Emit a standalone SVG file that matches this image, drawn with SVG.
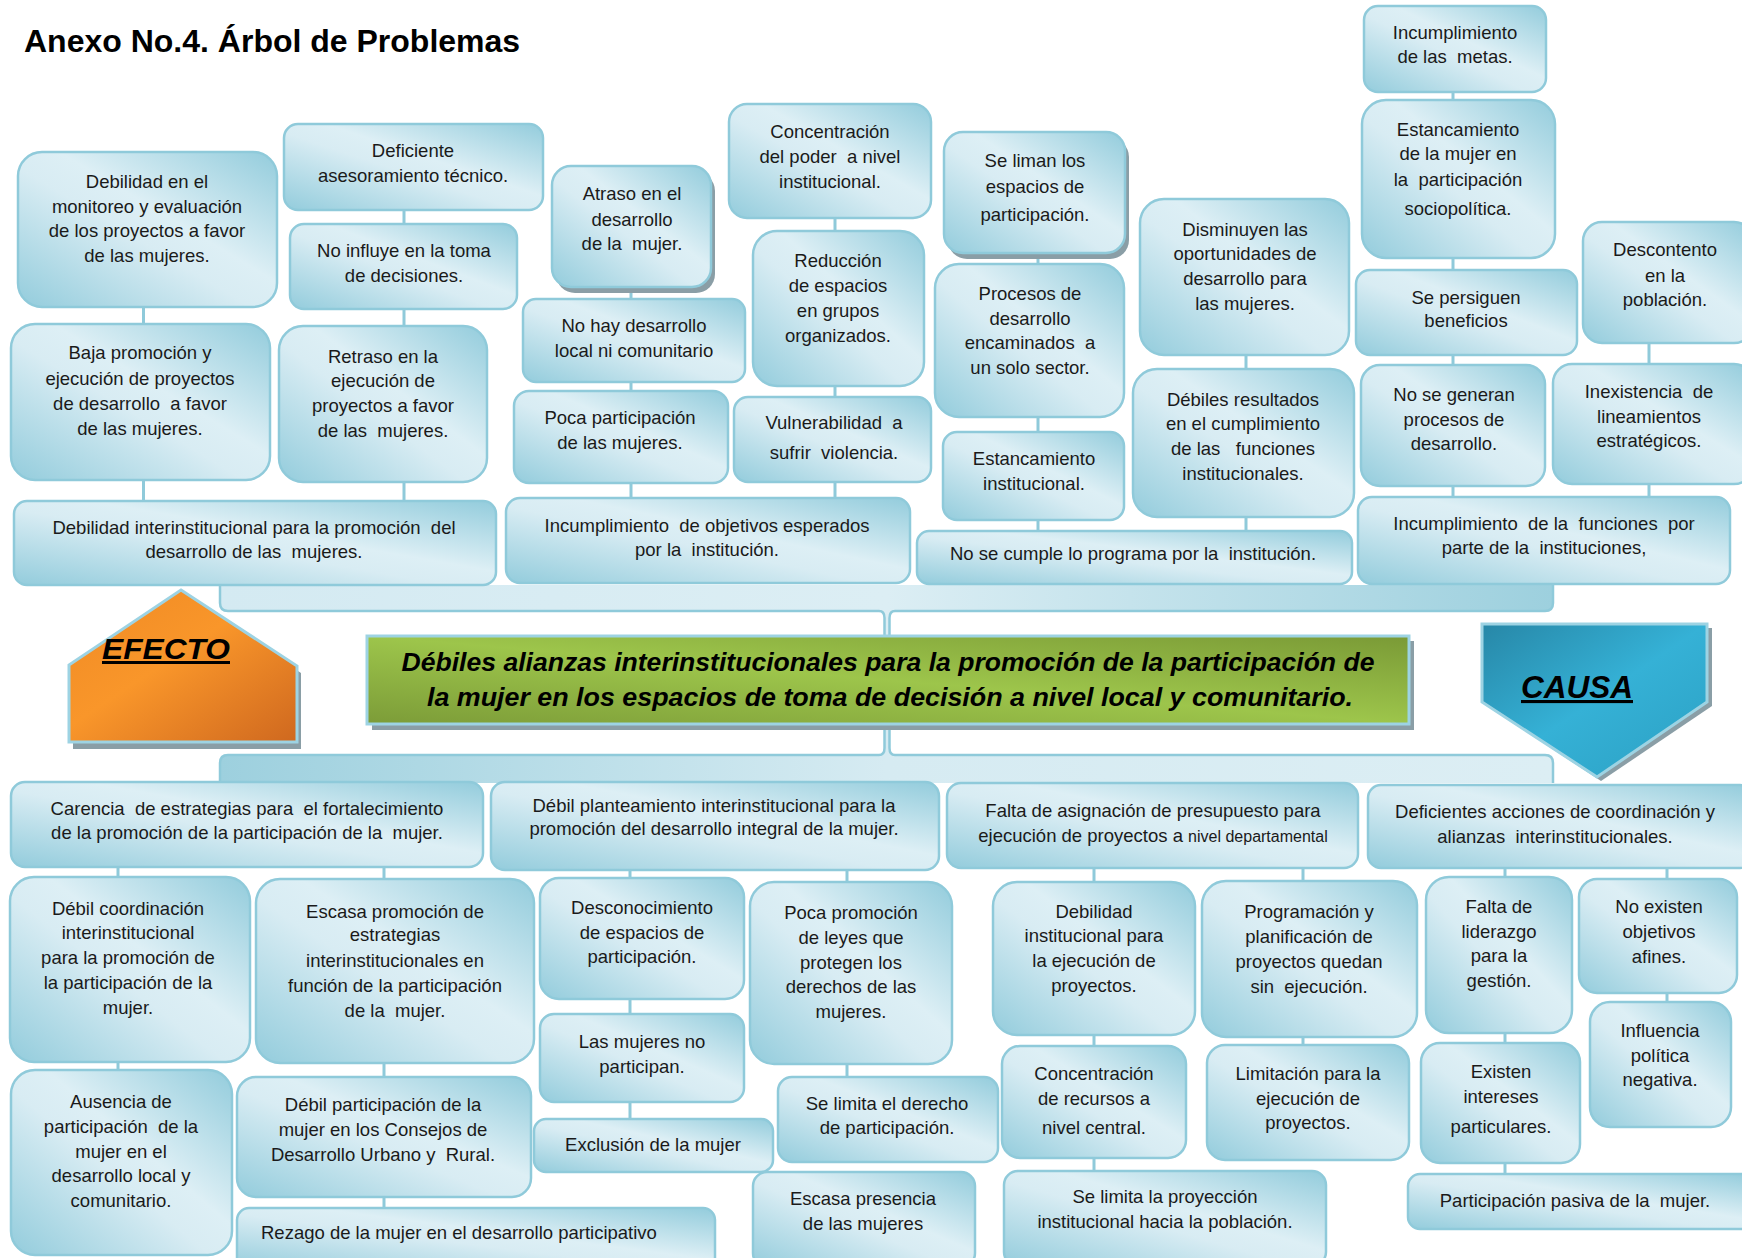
<svg xmlns="http://www.w3.org/2000/svg" width="1742" height="1258" viewBox="0 0 1742 1258">
<defs>
<linearGradient id="bg" x1="0" y1="1" x2="1" y2="0">
<stop offset="0" stop-color="#93CCDC"/><stop offset="0.45" stop-color="#D8ECF3"/><stop offset="0.58" stop-color="#DDEFF5"/><stop offset="1" stop-color="#93CCDC"/>
</linearGradient>
<linearGradient id="mg" x1="0" y1="1" x2="1" y2="0">
<stop offset="0" stop-color="#7C9C38"/><stop offset="0.5" stop-color="#9DC54B"/><stop offset="1" stop-color="#7A9A36"/>
</linearGradient>
<linearGradient id="og" x1="0" y1="0" x2="1" y2="1">
<stop offset="0" stop-color="#EF8A24"/><stop offset="0.45" stop-color="#F9962A"/><stop offset="1" stop-color="#CF681F"/>
</linearGradient>
<linearGradient id="cg" x1="0" y1="0" x2="1" y2="1">
<stop offset="0" stop-color="#2787A7"/><stop offset="0.5" stop-color="#35B1D6"/><stop offset="1" stop-color="#2BA0C3"/>
</linearGradient>
<linearGradient id="tb" x1="0" y1="0" x2="1" y2="0">
<stop offset="0" stop-color="#D4EAF2"/><stop offset="0.5" stop-color="#DCEEF4"/><stop offset="1" stop-color="#9DD0DE"/>
</linearGradient>
<linearGradient id="bb" x1="0" y1="0" x2="1" y2="0">
<stop offset="0" stop-color="#9DD0DE"/><stop offset="0.5" stop-color="#D6EBF2"/><stop offset="1" stop-color="#DCEEF4"/>
</linearGradient>
<style>
.box{fill:url(#bg);stroke:#8FCADA;stroke-width:2.5}
.sh{fill:#8A9EA6}
.t{font-family:"Liberation Sans",Arial,sans-serif;font-size:18.5px;fill:#1a1a1a;text-anchor:middle;white-space:pre}
.conn{stroke:#8FCADA;stroke-width:3;fill:none}
.band{stroke:#8FCADA;stroke-width:2.5}
</style>
</defs>
<rect width="1742" height="1258" fill="#ffffff"/>
<text x="24" y="52" font-family="'Liberation Sans',Arial,sans-serif" font-size="32" font-weight="bold" fill="#000">Anexo No.4. Árbol de Problemas</text>

<g id="brackets">
<path d="M220,585 L1553,585 L1553,603 Q1553,611 1545,611 L895,611 Q889.5,611 889.5,618 L889.5,636 L884.5,636 L884.5,618 Q884.5,611 879,611 L228,611 Q220,611 220,603 Z" fill="url(#tb)" stroke="none"/>
<path d="M220,585 L220,603 Q220,611 228,611 L879,611 Q884.5,611 884.5,618 L884.5,636 M889.5,636 L889.5,618 Q889.5,611 895,611 L1545,611 Q1553,611 1553,603 L1553,585" class="band" fill="none"/>
<path d="M220,783 L220,763 Q220,755 228,755 L879,755 Q884.5,755 884.5,748 L884.5,724 L889.5,724 L889.5,748 Q889.5,755 895,755 L1545,755 Q1553,755 1553,763 L1553,783 Z" fill="url(#bb)" stroke="none"/>
<path d="M220,783 L220,763 Q220,755 228,755 L879,755 Q884.5,755 884.5,748 L884.5,724 M889.5,724 L889.5,748 Q889.5,755 895,755 L1545,755 Q1553,755 1553,763 L1553,783" class="band" fill="none"/>
</g>

<g id="connectors">
<path class="conn" d="M143.5,307V324M143.5,480V501M404,210V224M404,309V326M404,482V501M631,287V299M631,382V391M631,483V498M835,218V231M835,386V397M835,482V498M1038,253V264M1038,417V432M1038,520V531M1246,355V369M1246,517V531M1453,92V100M1453,258V270M1453,355V365M1453,486V497M1649,343V364M1649,484V497"/>
<path class="conn" d="M118,867V877M118,1062V1070M384,867V879M384,1063V1077M384,1197V1208M630,870V878M630,999V1014M630,1102V1119M847,870V882M847,1064V1077M1094,868V882M1094,1035V1046M1094,1158V1171M1303,868V881M1303,1037V1045M1505,868V877M1505,1033V1043M1505,1163V1174M1667,868V879M1667,993V1002"/>
</g>

<g id="n-t24"><rect class="box" x="18" y="152" width="259" height="155" rx="24"/><text class="t"><tspan x="147" y="188">Debilidad en el</tspan><tspan x="147" y="213">monitoreo y evaluación</tspan><tspan x="147" y="237">de los proyectos a favor</tspan><tspan x="147" y="262">de las mujeres.</tspan></text></g>
<g id="n-t21"><rect class="box" x="284" y="124" width="259" height="86" rx="14"/><text class="t"><tspan x="413" y="157">Deficiente</tspan><tspan x="413" y="182">asesoramiento técnico.</tspan></text></g>
<g id="n-t22"><rect class="box" x="290" y="224" width="227" height="85" rx="14"/><text class="t"><tspan x="404" y="257">No influye en la toma</tspan><tspan x="404" y="282">de decisiones.</tspan></text></g>
<g id="n-t25"><rect class="box" x="11" y="324" width="259" height="156" rx="24"/><text class="t"><tspan x="140" y="359">Baja promoción y</tspan><tspan x="140" y="385">ejecución de proyectos</tspan><tspan x="140" y="410">de desarrollo  a favor</tspan><tspan x="140" y="435">de las mujeres.</tspan></text></g>
<g id="n-t23"><rect class="box" x="279" y="326" width="208" height="156" rx="24"/><text class="t"><tspan x="383" y="363">Retraso en la</tspan><tspan x="383" y="387">ejecución de</tspan><tspan x="383" y="412">proyectos a favor</tspan><tspan x="383" y="437">de las  mujeres.</tspan></text></g>
<g id="n-t26"><rect class="box" x="14" y="501" width="482" height="84" rx="13"/><text class="t"><tspan x="254" y="534">Debilidad interinstitucional para la promoción  del</tspan><tspan x="254" y="558">desarrollo de las  mujeres.</tspan></text></g>

<g id="n-t18"><rect class="sh" x="556" y="172" width="159" height="121" rx="19"/><rect class="box" x="552" y="166" width="159" height="121" rx="19"/><text class="t"><tspan x="632" y="200">Atraso en el</tspan><tspan x="632" y="226">desarrollo</tspan><tspan x="632" y="250">de la  mujer.</tspan></text></g>
<g id="n-t19"><rect class="box" x="523" y="299" width="222" height="83" rx="13"/><text class="t"><tspan x="634" y="332">No hay desarrollo</tspan><tspan x="634" y="357">local ni comunitario</tspan></text></g>
<g id="n-t20"><rect class="box" x="514" y="391" width="214" height="92" rx="15"/><text class="t"><tspan x="620" y="424">Poca participación</tspan><tspan x="620" y="449">de las mujeres.</tspan></text></g>
<g id="n-t17"><rect class="box" x="506" y="498" width="404" height="85" rx="14"/><text class="t"><tspan x="707" y="532">Incumplimiento  de objetivos esperados</tspan><tspan x="707" y="556">por la  institución.</tspan></text></g>
<g id="n-t14"><rect class="box" x="729" y="104" width="202" height="114" rx="18"/><text class="t"><tspan x="830" y="138">Concentración</tspan><tspan x="830" y="163">del poder  a nivel</tspan><tspan x="830" y="188">institucional.</tspan></text></g>
<g id="n-t15"><rect class="box" x="753" y="231" width="171" height="155" rx="24"/><text class="t"><tspan x="838" y="267">Reducción</tspan><tspan x="838" y="292">de espacios</tspan><tspan x="838" y="317">en grupos</tspan><tspan x="838" y="342">organizados.</tspan></text></g>
<g id="n-t16"><rect class="box" x="734" y="397" width="197" height="85" rx="14"/><text class="t"><tspan x="834" y="429">Vulnerabilidad  a</tspan><tspan x="834" y="459">sufrir  violencia.</tspan></text></g>
<g id="n-t11"><rect class="sh" x="948" y="138" width="181" height="121" rx="19"/><rect class="box" x="944" y="132" width="181" height="121" rx="19"/><text class="t"><tspan x="1035" y="167">Se liman los</tspan><tspan x="1035" y="193">espacios de</tspan><tspan x="1035" y="221">participación.</tspan></text></g>
<g id="n-t12"><rect class="box" x="935" y="264" width="189" height="153" rx="24"/><text class="t"><tspan x="1030" y="300">Procesos de</tspan><tspan x="1030" y="325">desarrollo</tspan><tspan x="1030" y="349">encaminados  a</tspan><tspan x="1030" y="374">un solo sector.</tspan></text></g>
<g id="n-t13"><rect class="box" x="943" y="432" width="181" height="88" rx="14"/><text class="t"><tspan x="1034" y="465">Estancamiento</tspan><tspan x="1034" y="490">institucional.</tspan></text></g>
<g id="n-t10"><rect class="box" x="917" y="531" width="435" height="53" rx="12"/><text class="t"><tspan x="1133" y="560">No se cumple lo programa por la  institución.</tspan></text></g>
<g id="n-t8"><rect class="box" x="1140" y="199" width="209" height="156" rx="24"/><text class="t"><tspan x="1245" y="236">Disminuyen las</tspan><tspan x="1245" y="260">oportunidades de</tspan><tspan x="1245" y="285">desarrollo para</tspan><tspan x="1245" y="310">las mujeres.</tspan></text></g>
<g id="n-t9"><rect class="box" x="1133" y="369" width="221" height="148" rx="24"/><text class="t"><tspan x="1243" y="406">Débiles resultados</tspan><tspan x="1243" y="430">en el cumplimiento</tspan><tspan x="1243" y="455">de las   funciones</tspan><tspan x="1243" y="480">institucionales.</tspan></text></g>
<g id="n-t1"><rect class="box" x="1364" y="6" width="182" height="86" rx="14"/><text class="t"><tspan x="1455" y="39">Incumplimiento</tspan><tspan x="1455" y="63">de las  metas.</tspan></text></g>
<g id="n-t2"><rect class="box" x="1362" y="100" width="193" height="158" rx="24"/><text class="t"><tspan x="1458" y="136">Estancamiento</tspan><tspan x="1458" y="160">de la mujer en</tspan><tspan x="1458" y="186">la  participación</tspan><tspan x="1458" y="215">sociopolítica.</tspan></text></g>
<g id="n-t3"><rect class="box" x="1356" y="270" width="221" height="85" rx="14"/><text class="t"><tspan x="1466" y="304">Se persiguen</tspan><tspan x="1466" y="327">beneficios</tspan></text></g>
<g id="n-t4"><rect class="box" x="1583" y="222" width="170" height="121" rx="19"/><text class="t"><tspan x="1665" y="256">Descontento</tspan><tspan x="1665" y="282">en la</tspan><tspan x="1665" y="306">población.</tspan></text></g>
<g id="n-t5"><rect class="box" x="1361" y="365" width="184" height="121" rx="19"/><text class="t"><tspan x="1454" y="401">No se generan</tspan><tspan x="1454" y="426">procesos de</tspan><tspan x="1454" y="450">desarrollo.</tspan></text></g>
<g id="n-t6"><rect class="box" x="1553" y="364" width="200" height="120" rx="19"/><text class="t"><tspan x="1649" y="398">Inexistencia  de</tspan><tspan x="1649" y="423">lineamientos</tspan><tspan x="1649" y="447">estratégicos.</tspan></text></g>
<g id="n-t7"><rect class="box" x="1358" y="497" width="372" height="87" rx="14"/><text class="t"><tspan x="1544" y="530">Incumplimiento  de la  funciones  por</tspan><tspan x="1544" y="554">parte de la  instituciones,</tspan></text></g>

<g id="n-efecto">
<polygon points="185,597 301,673 301,749 73,749 73,672" fill="#8A9EA6"/>
<polygon points="181,590 297,666 297,742 69,742 69,665" fill="url(#og)" stroke="#9DD3E3" stroke-width="3"/>
<text x="102" y="659" font-family="'Liberation Sans',Arial,sans-serif" font-size="30" font-weight="bold" font-style="italic" text-decoration="underline" fill="#000" textLength="128" lengthAdjust="spacingAndGlyphs">EFECTO</text>
</g>

<g id="n-main">
<rect x="372" y="641" width="1042" height="89" fill="#8A9EA6"/>
<rect x="367" y="636" width="1042" height="88" fill="url(#mg)" stroke="#9DD3E3" stroke-width="3"/>
<text font-family="'Liberation Sans',Arial,sans-serif" font-size="26" font-weight="bold" font-style="italic" fill="#000" text-anchor="middle"><tspan x="888" y="671" textLength="973" lengthAdjust="spacingAndGlyphs">Débiles alianzas interinstitucionales para la promoción de la participación de</tspan><tspan x="890" y="706" textLength="926" lengthAdjust="spacingAndGlyphs">la mujer en los espacios de toma de decisión a nivel local y comunitario.</tspan></text>
</g>

<g id="n-causa">
<polygon points="1487,628 1712,628 1712,706 1601,781 1487,706" fill="#8A9EA6"/>
<polygon points="1482,624 1707,624 1707,702 1597,777 1482,702" fill="url(#cg)" stroke="#9DD3E3" stroke-width="3"/>
<text x="1521" y="698" font-family="'Liberation Sans',Arial,sans-serif" font-size="31" font-weight="bold" font-style="italic" text-decoration="underline" fill="#000" textLength="112" lengthAdjust="spacingAndGlyphs">CAUSA</text>
</g>

<g id="n-b1"><rect class="box" x="11" y="782" width="472" height="85" rx="14"/><text class="t"><tspan x="247" y="815">Carencia  de estrategias para  el fortalecimiento</tspan><tspan x="247" y="839">de la promoción de la participación de la  mujer.</tspan></text></g>
<g id="n-b2"><rect class="box" x="491" y="782" width="448" height="88" rx="14"/><text class="t"><tspan x="714" y="812">Débil planteamiento interinstitucional para la</tspan><tspan x="714" y="835">promoción del desarrollo integral de la mujer.</tspan></text></g>
<g id="n-b3"><rect class="box" x="947" y="783" width="411" height="85" rx="14"/><text class="t"><tspan x="1153" y="817">Falta de asignación de presupuesto para</tspan><tspan x="1153" y="842">ejecución de proyectos a <tspan font-size="16">nivel departamental</tspan></tspan></text></g>
<g id="n-b4"><rect class="box" x="1368" y="785" width="385" height="83" rx="13"/><text class="t"><tspan x="1555" y="818">Deficientes acciones de coordinación y</tspan><tspan x="1555" y="843">alianzas  interinstitucionales.</tspan></text></g>
<g id="n-b5"><rect class="box" x="10" y="877" width="240" height="185" rx="24"/><text class="t"><tspan x="128" y="915">Débil coordinación</tspan><tspan x="128" y="939">interinstitucional</tspan><tspan x="128" y="964">para la promoción de</tspan><tspan x="128" y="989">la participación de la</tspan><tspan x="128" y="1014">mujer.</tspan></text></g>
<g id="n-b6"><rect class="box" x="256" y="879" width="278" height="184" rx="24"/><text class="t"><tspan x="395" y="918">Escasa promoción de</tspan><tspan x="395" y="941">estrategias</tspan><tspan x="395" y="967">interinstitucionales en</tspan><tspan x="395" y="992">función de la participación</tspan><tspan x="395" y="1017">de la  mujer.</tspan></text></g>
<g id="n-b7"><rect class="box" x="540" y="878" width="204" height="121" rx="19"/><text class="t"><tspan x="642" y="914">Desconocimiento</tspan><tspan x="642" y="939">de espacios de</tspan><tspan x="642" y="963">participación.</tspan></text></g>
<g id="n-b8"><rect class="box" x="540" y="1014" width="204" height="88" rx="14"/><text class="t"><tspan x="642" y="1048">Las mujeres no</tspan><tspan x="642" y="1073">participan.</tspan></text></g>
<g id="n-b9"><rect class="box" x="11" y="1070" width="221" height="185" rx="24"/><text class="t"><tspan x="121" y="1108">Ausencia de</tspan><tspan x="121" y="1133">participación  de la</tspan><tspan x="121" y="1158">mujer en el</tspan><tspan x="121" y="1182">desarrollo local y</tspan><tspan x="121" y="1207">comunitario.</tspan></text></g>
<g id="n-b10"><rect class="box" x="237" y="1077" width="294" height="120" rx="19"/><text class="t"><tspan x="383" y="1111">Débil participación de la</tspan><tspan x="383" y="1136">mujer en los Consejos de</tspan><tspan x="383" y="1161">Desarrollo Urbano y  Rural.</tspan></text></g>
<g id="n-b11"><rect class="box" x="237" y="1208" width="478" height="62" rx="12"/><text class="t" style="text-anchor:start"><tspan x="261" y="1239">Rezago de la mujer en el desarrollo participativo</tspan></text></g>
<g id="n-b12"><rect class="box" x="534" y="1119" width="239" height="53" rx="12"/><text class="t"><tspan x="653" y="1151">Exclusión de la mujer</tspan></text></g>
<g id="n-b13"><rect class="box" x="750" y="882" width="202" height="182" rx="24"/><text class="t"><tspan x="851" y="919">Poca promoción</tspan><tspan x="851" y="944">de leyes que</tspan><tspan x="851" y="969">protegen los</tspan><tspan x="851" y="993">derechos de las</tspan><tspan x="851" y="1018">mujeres.</tspan></text></g>
<g id="n-b14"><rect class="box" x="778" y="1077" width="220" height="85" rx="14"/><text class="t"><tspan x="887" y="1110">Se limita el derecho</tspan><tspan x="887" y="1134">de participación.</tspan></text></g>
<g id="n-b15"><rect class="box" x="753" y="1172" width="222" height="95" rx="14"/><text class="t"><tspan x="863" y="1205">Escasa presencia</tspan><tspan x="863" y="1230">de las mujeres</tspan></text></g>
<g id="n-b16"><rect class="box" x="993" y="882" width="202" height="153" rx="24"/><text class="t"><tspan x="1094" y="918">Debilidad</tspan><tspan x="1094" y="942">institucional para</tspan><tspan x="1094" y="967">la ejecución de</tspan><tspan x="1094" y="992">proyectos.</tspan></text></g>
<g id="n-b17"><rect class="box" x="1002" y="1046" width="184" height="112" rx="18"/><text class="t"><tspan x="1094" y="1080">Concentración</tspan><tspan x="1094" y="1105">de recursos a</tspan><tspan x="1094" y="1134">nivel central.</tspan></text></g>
<g id="n-b18"><rect class="box" x="1004" y="1171" width="322" height="95" rx="14"/><text class="t"><tspan x="1165" y="1203">Se limita la proyección</tspan><tspan x="1165" y="1228">institucional hacia la población.</tspan></text></g>
<g id="n-b19"><rect class="box" x="1202" y="881" width="215" height="156" rx="24"/><text class="t"><tspan x="1309" y="918">Programación y</tspan><tspan x="1309" y="943">planificación de</tspan><tspan x="1309" y="968">proyectos quedan</tspan><tspan x="1309" y="993">sin  ejecución.</tspan></text></g>
<g id="n-b20"><rect class="box" x="1207" y="1045" width="202" height="115" rx="18"/><text class="t"><tspan x="1308" y="1080">Limitación para la</tspan><tspan x="1308" y="1105">ejecución de</tspan><tspan x="1308" y="1129">proyectos.</tspan></text></g>
<g id="n-b21"><rect class="box" x="1426" y="877" width="146" height="156" rx="23"/><text class="t"><tspan x="1499" y="913">Falta de</tspan><tspan x="1499" y="938">liderazgo</tspan><tspan x="1499" y="962">para la</tspan><tspan x="1499" y="987">gestión.</tspan></text></g>
<g id="n-b22"><rect class="box" x="1421" y="1043" width="159" height="120" rx="19"/><text class="t"><tspan x="1501" y="1078">Existen</tspan><tspan x="1501" y="1103">intereses</tspan><tspan x="1501" y="1133">particulares.</tspan></text></g>
<g id="n-b23"><rect class="box" x="1579" y="879" width="158" height="114" rx="18"/><text class="t"><tspan x="1659" y="913">No existen</tspan><tspan x="1659" y="938">objetivos</tspan><tspan x="1659" y="963">afines.</tspan></text></g>
<g id="n-b25"><rect class="box" x="1590" y="1002" width="141" height="125" rx="20"/><text class="t"><tspan x="1660" y="1037">Influencia</tspan><tspan x="1660" y="1062">política</tspan><tspan x="1660" y="1086">negativa.</tspan></text></g>
<g id="n-b24"><rect class="box" x="1408" y="1174" width="345" height="55" rx="12"/><text class="t"><tspan x="1575" y="1207">Participación pasiva de la  mujer.</tspan></text></g>
</svg>
